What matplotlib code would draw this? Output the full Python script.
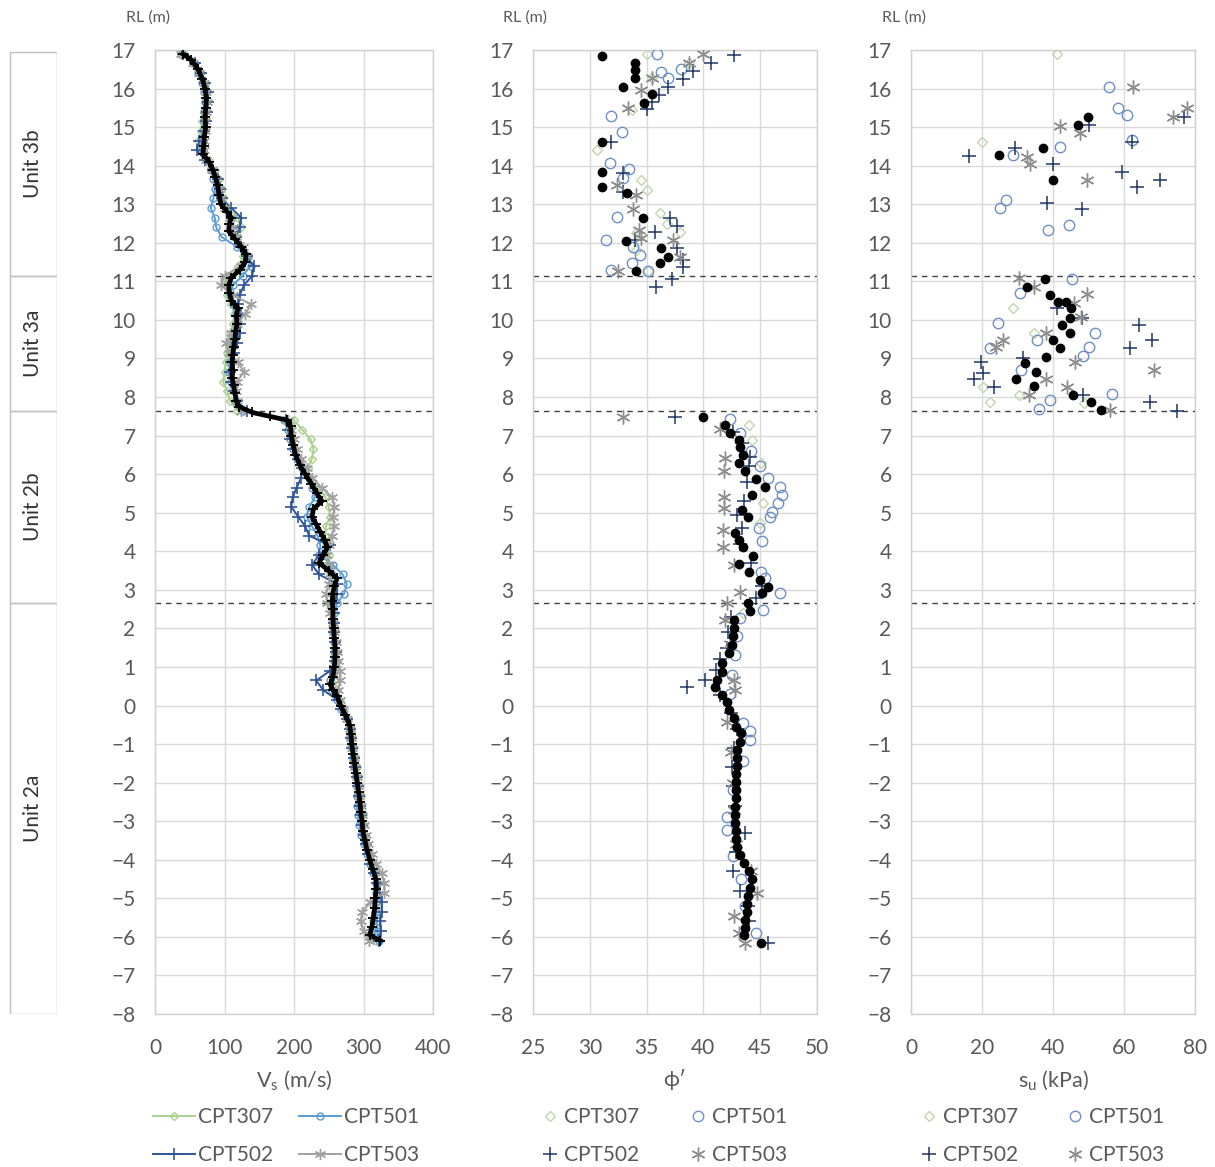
import matplotlib
matplotlib.use("Agg")
import matplotlib.pyplot as plt
from matplotlib.patches import Rectangle

plt.rcParams['font.family'] = ['Lato', 'DejaVu Sans']
plt.rcParams['mathtext.fontset'] = 'custom'
plt.rcParams['mathtext.rm'] = 'Lato'
plt.rcParams['mathtext.it'] = 'Lato:italic'

# ---------------- data ----------------
series_names = ['CPT307', 'CPT501', 'CPT502', 'CPT503']

# RL grid of the CPT-derived Vs profiles (m)
rl_vs = [16.9, 16.65, 16.4, 16.15, 15.9, 15.65, 15.4, 15.15, 14.9, 14.65,
         14.4, 14.15, 13.9, 13.65, 13.4, 13.15, 12.9, 12.65, 12.4, 12.15,
         11.9, 11.65, 11.4, 11.15, 10.9, 10.65, 10.4, 10.15, 9.9, 9.65,
         9.4, 9.15, 8.9, 8.65, 8.4, 8.15, 7.9, 7.65, 7.4, 7.15,
         6.9, 6.65, 6.4, 6.15, 5.9, 5.65, 5.4, 5.15, 4.9, 4.65,
         4.4, 4.15, 3.9, 3.65, 3.4, 3.15, 2.9, 2.65, 2.4, 2.15,
         1.9, 1.65, 1.4, 1.15, 0.9, 0.65, 0.4, 0.15, -0.1, -0.35,
         -0.6, -0.85, -1.1, -1.35, -1.6, -1.85, -2.1, -2.35, -2.6, -2.85,
         -3.1, -3.35, -3.6, -3.85, -4.1, -4.35, -4.6, -4.85, -5.1, -5.35,
         -5.6, -5.85, -6.1]

vs_cpt307 = [42, 58, 66, 72, 75, 72, 70, 68, 66, 62,
             66, 78, 86, 92, 96, 98, 104, 120, 124, 118,
             122, 126, 120, 104, 100, 104, 110, 114, 112, 108,
             106, 104, 102, 100, 98, 104, 108, 118, 200, 212,
             224, 228, 226, 220, 222, 234, 245, 250, 252, 246,
             244, 250, 250, 248, 252, 256, 254, 252, 254, 256,
             258, 260, 262, 262, 260, 258, 262, 266, 272, 278,
             282, 284, 286, 288, 290, 292, 294, 296, 297, 299,
             300, 302, 305, 309, 312, 316, 319, 320, 318, 316,
             314, 312, 318]
vs_cpt501 = [38, 55, 62, 68, 71, 72, 71, 70, 70, 69,
             69, 74, 80, 84, 86, 84, 80, 86, 88, 96,
             118, 134, 138, 126, 112, 108, 112, 116, 116, 114,
             112, 110, 108, 106, 110, 114, 116, 126, 186, 192,
             194, 198, 204, 212, 222, 226, 230, 222, 218, 226,
             234, 238, 236, 256, 270, 276, 272, 262, 258, 256,
             256, 257, 258, 258, 256, 252, 254, 262, 268, 276,
             280, 281, 283, 285, 287, 289, 290, 290, 290, 292,
             294, 296, 300, 305, 309, 314, 318, 318, 318, 318,
             319, 320, 322]
vs_cpt502 = [40, 58, 66, 72, 76, 76, 75, 74, 70, 64,
             60, 72, 84, 90, 94, 96, 110, 124, 122, 116,
             124, 132, 142, 140, 128, 122, 120, 124, 122, 122,
             118, 114, 110, 108, 110, 114, 118, 132, 188, 192,
             194, 198, 206, 212, 210, 204, 198, 196, 206, 216,
             222, 252, 236, 226, 236, 262, 262, 258, 257, 257,
             258, 259, 260, 259, 252, 232, 242, 262, 268, 276,
             281, 282, 284, 286, 288, 290, 292, 294, 295, 297,
             298, 300, 303, 307, 310, 315, 320, 324, 326, 326,
             324, 325, 322]
vs_cpt503 = [38, 55, 64, 70, 73, 75, 74, 72, 72, 70,
             70, 74, 82, 88, 92, 95, 100, 108, 112, 116,
             126, 132, 124, 100, 95, 112, 138, 130, 118, 110,
             102, 106, 120, 128, 118, 116, 118, 124, 192, 196,
             200, 204, 210, 218, 226, 240, 255, 258, 256, 258,
             254, 250, 248, 250, 252, 250, 246, 248, 252, 256,
             258, 260, 262, 264, 266, 266, 264, 266, 270, 276,
             280, 282, 284, 286, 288, 290, 292, 294, 296, 298,
             300, 303, 306, 312, 318, 326, 330, 330, 310, 298,
             296, 300, 308]

# average Vs profile (black)
rl_vs_mean = [16.9, 16.75, 16.5, 16.25, 16.0, 15.75, 15.5, 15.25, 15.0, 14.75,
              14.5, 14.3, 14.1, 13.9, 13.7, 13.5, 13.25, 13.0, 12.8, 12.65,
              12.5, 12.3, 12.1, 11.9, 11.7, 11.5, 11.3, 11.1, 10.9, 10.7,
              10.5, 10.3, 10.1, 9.9, 9.7, 9.5, 9.3, 9.1, 8.9, 8.7,
              8.5, 8.3, 8.1, 7.9, 7.75, 7.6, 7.5, 7.4, 7.25, 7.0,
              6.75, 6.5, 6.25, 6.0, 5.75, 5.5, 5.3, 5.1, 4.9, 4.7,
              4.5, 4.3, 4.1, 3.9, 3.7, 3.5, 3.3, 3.1, 2.9, 2.7,
              2.5, 2.25, 2.0, 1.75, 1.5, 1.25, 1.0, 0.75, 0.55, 0.4,
              0.25, 0.0, -0.25, -0.5, -0.75, -1.0, -1.25, -1.5, -1.75, -2.0,
              -2.25, -2.5, -2.75, -3.0, -3.25, -3.5, -3.75, -4.0, -4.25, -4.5,
              -4.75, -5.0, -5.25, -5.5, -5.75, -5.95, -6.1]
vs_mean = [40, 52, 62, 68, 72, 74, 73, 72, 73, 71,
           70, 69, 78, 83, 87, 90, 92, 95, 104, 110,
           107, 106, 115, 124, 131, 130, 122, 110, 106, 107,
           110, 119, 117, 118, 116, 115, 113, 112, 111, 112,
           111, 113, 115, 117, 121, 140, 165, 190, 195, 196,
           199, 202, 208, 216, 225, 233, 240, 228, 226, 232,
           238, 244, 248, 242, 236, 250, 262, 258, 256, 255,
           256, 256, 257, 258, 259, 259, 258, 256, 252, 256,
           262, 267, 274, 280, 282, 283, 285, 287, 289, 291,
           293, 295, 296, 298, 299, 302, 305, 309, 313, 318,
           318, 317, 316, 314, 312, 309, 324]

# friction angle phi' (deg)
phi_cpt307 = [35.0, 38.75, 35.45, 33.7, 30.6, 34.55, 35.0, 36.2, 36.8, 37.95, 34.1, 34.1, 35.1,
              44.05, 44.25, 45.1, 45.25, 45.0, 43.5]
rl_phi_cpt307 = [16.9, 16.65, 16.27, 15.44, 14.4, 13.63, 13.37, 12.77, 12.5, 12.29, 12.25, 11.81, 11.28,
                 7.27, 6.89, 6.28, 5.25, 4.73, 2.39]
phi_cpt501 = [35.9, 38.0, 36.3, 36.9, 31.9, 32.8, 31.8, 33.45, 32.9, 32.4, 31.4, 33.8, 34.4, 33.75, 31.9, 35.1,
              42.3, 43.25, 44.2, 45.0, 45.7, 46.75, 46.9, 46.6, 46.0, 45.85, 44.9, 45.2, 45.1, 45.4, 46.7,
              45.25, 43.25, 43.0, 42.8, 42.5, 42.3, 43.5, 44.1, 44.1, 43.5, 42.6, 42.1, 42.1, 42.6, 43.3,
              43.7, 44.6]
rl_phi_cpt501 = [16.9, 16.52, 16.44, 16.27, 15.29, 14.88, 14.06, 13.91, 13.67, 12.66, 12.07, 11.9, 11.68, 11.47,
                 11.29, 11.28,
                 7.42, 7.06, 6.6, 6.2, 5.89, 5.66, 5.46, 5.25, 5.03, 4.9, 4.6, 4.26, 3.47, 3.3, 2.91,
                 2.47, 2.26, 1.8, 1.3, 0.8, 0.3, -0.45, -0.67, -0.89, -1.44, -2.2, -2.88, -3.23, -3.9, -4.5,
                 -5.2, -5.91]
phi_cpt502 = [42.7, 40.7, 39.05, 38.2, 36.9, 36.1, 35.45, 35.0, 31.85, 32.95, 32.95, 37.1, 37.7, 35.75, 34.0,
              37.7, 38.2, 38.2, 37.2, 35.85,
              37.5, 42.6, 43.4, 44.1, 44.0, 43.8, 43.6, 43.0, 43.4, 43.2, 44.2, 45.2, 44.6, 42.4, 42.2,
              42.1, 41.5, 41.1, 40.1, 38.55, 41.5, 42.4, 43.0, 42.7, 42.5, 42.6, 42.8, 43.65, 42.9, 42.6,
              43.2, 43.9, 44.0, 45.7]
rl_phi_cpt502 = [16.87, 16.67, 16.46, 16.25, 16.05, 15.83, 15.66, 15.46, 14.62, 13.8, 13.33, 12.64, 12.44,
                 12.29, 12.07, 11.86, 11.55, 11.38, 11.05, 10.86,
                 7.47, 7.1, 6.8, 6.45, 6.2, 5.8, 5.3, 4.95, 4.6, 4.2, 3.7, 3.1, 2.8, 2.3, 1.9,
                 1.5, 1.2, 0.91, 0.66, 0.49, 0.27, -0.2, -0.6, -1.1, -1.6, -2.1, -2.6, -3.31, -3.8, -4.3,
                 -4.8, -5.2, -5.6, -6.17]
phi_cpt503 = [40.0, 38.7, 35.5, 34.5, 33.4, 32.4, 34.1, 33.8, 34.3, 34.55, 37.3, 37.95, 32.45,
              32.9, 41.5, 41.9, 41.8, 41.85, 41.85, 41.7, 41.75, 42.65, 43.25, 42.05, 41.9, 42.3, 42.65,
              42.8, 42.05, 42.4, 42.6, 42.7, 42.9, 44.2, 44.7, 42.65, 43.1, 43.65]
rl_phi_cpt503 = [16.9, 16.67, 16.27, 15.96, 15.49, 13.5, 13.24, 12.87, 12.33, 12.12, 12.07, 11.64, 11.28,
                 7.47, 7.16, 6.41, 6.09, 5.42, 5.12, 4.55, 4.12, 3.64, 2.95, 2.65, 2.22, 1.6, 0.66,
                 0.40, -0.42, -1.2, -2.0, -2.7, -3.6, -4.3, -4.87, -5.47, -5.91, -6.17]
phi_mean = [31.05, 34.0, 34.0, 34.0, 32.95, 35.45, 34.8, 31.1, 31.05, 31.05, 33.3, 34.7, 33.15, 36.25, 36.9,
            36.2, 34.1,
            40.0, 41.9, 42.3, 43.1, 43.2, 43.45, 43.15, 43.7, 44.6, 45.4, 44.25, 43.4, 43.9, 42.8,
            43.15, 43.5, 44.4, 43.15, 44.05, 45.0, 45.7, 45.2, 43.95, 44.1, 42.65, 42.65, 42.6, 42.5,
            42.25, 41.6, 41.6, 41.2, 41.0, 41.6, 42.05, 42.25, 42.65, 42.9, 43.3, 43.25, 43.0, 43.0,
            42.95, 42.9, 42.9, 42.85, 42.85, 42.8, 42.75, 42.8, 42.85, 42.9, 43.0, 43.2, 43.6, 44.0,
            44.25, 44.1, 43.9, 43.85, 43.8, 43.7, 43.65, 43.6, 45.05]
rl_phi_mean = [16.85, 16.67, 16.48, 16.27, 16.03, 15.86, 15.62, 14.62, 13.84, 13.45, 13.28, 12.64, 12.05,
               11.87, 11.64, 11.47, 11.28,
               7.47, 7.27, 7.06, 6.89, 6.71, 6.50, 6.30, 6.07, 5.87, 5.66, 5.46, 5.07, 4.88, 4.48,
               4.29, 4.12, 3.88, 3.67, 3.47, 3.26, 3.07, 2.91, 2.65, 2.46, 2.22, 2.01, 1.79, 1.57,
               1.35, 1.09, 0.88, 0.66, 0.47, 0.27, 0.10, -0.12, -0.33, -0.55, -0.72, -0.94, -1.15, -1.36,
               -1.57, -1.78, -1.99, -2.2, -2.41, -2.62, -2.83, -3.04, -3.25, -3.46, -3.67, -3.88, -4.09, -4.3,
               -4.51, -4.72, -4.93, -5.14, -5.35, -5.56, -5.77, -5.95, -6.17]

# undrained shear strength su (kPa)
su_cpt307 = [41.0, 19.9, 28.6, 20.2, 22.3, 30.5, 34.6, 48.7]
rl_su_cpt307 = [16.9, 14.62, 10.30, 8.27, 7.88, 8.05, 9.67, 7.85]
su_cpt501 = [55.9, 58.4, 60.9, 62.15, 42.0, 28.6, 26.8, 25.1, 44.6, 38.7, 45.3, 30.7, 24.6, 51.8, 50.2,
             48.4, 35.4, 22.3, 30.9, 56.5, 39.15, 36.1]
rl_su_cpt501 = [16.03, 15.49, 15.31, 14.67, 14.49, 14.28, 13.11, 12.89, 12.46, 12.34, 11.05, 10.69, 9.91,
                9.67, 9.31, 9.06, 9.48, 9.26, 8.70, 8.08, 7.92, 7.68]
su_cpt502 = [16.4, 29.3, 39.9, 38.2, 48.1, 50.2, 59.3, 63.75, 70.1, 62.15, 76.9, 41.0, 48.1, 64.3, 61.7,
             67.8, 31.65, 19.6, 20.4, 17.7, 23.4, 48.5, 67.3, 75.0]
rl_su_cpt502 = [14.26, 14.45, 14.04, 13.04, 12.87, 15.05, 13.84, 13.44, 13.63, 14.62, 15.25, 10.30, 10.04,
                9.87, 9.26, 9.48, 9.01, 8.92, 8.63, 8.46, 8.27, 8.05, 7.88, 7.65]
su_cpt503 = [62.6, 42.0, 47.6, 33.5, 32.6, 49.7, 73.7, 77.7, 30.5, 34.65, 49.7, 45.9, 47.8, 38.0, 26.0,
             23.9, 46.2, 68.4, 38.0, 43.9, 33.3, 56.1]
rl_su_cpt503 = [16.03, 15.02, 14.86, 14.04, 14.23, 13.63, 15.27, 15.49, 11.10, 10.85, 10.67, 10.45, 10.08,
                9.65, 9.48, 9.31, 8.92, 8.70, 8.46, 8.27, 8.05, 7.66]
su_mean = [49.95, 47.1, 37.1, 24.9, 40.1, 37.75, 32.6, 39.15, 41.3, 43.6, 45.0, 44.8, 42.45, 44.8, 40.1,
           42.0, 38.0, 32.1, 35.2, 29.6, 34.65, 45.5, 50.7, 53.5]
rl_su_mean = [15.27, 15.05, 14.45, 14.28, 13.63, 11.05, 10.86, 10.65, 10.47, 10.47, 10.30, 10.04, 9.87,
              9.65, 9.48, 9.26, 9.05, 8.88, 8.66, 8.46, 8.29, 8.05, 7.88, 7.66]

# stratigraphic units
unit_names = ['Unit 3b', 'Unit 3a', 'Unit 2b', 'Unit 2a']
unit_top = [16.95, 11.15, 7.65, 2.67]
unit_bottom = [11.15, 7.65, 2.67, -8.0]
boundary_rl = [11.15, 7.65, 2.67]

# ---------------- figure ----------------
W, H = 1215, 1167
fig = plt.figure(figsize=(W / 100, H / 100), dpi=100)


def rect(l, r, t=50, b=1014):
    return [l / W, 1 - b / H, (r - l) / W, (b - t) / H]


ax1 = fig.add_axes(rect(155, 433))
ax2 = fig.add_axes(rect(533, 817))
ax3 = fig.add_axes(rect(911, 1195))
axu = fig.add_axes(rect(8, 57))

TXT = '#595959'
GRID = '#d9d9d9'
for ax in (ax1, ax2, ax3):
    ax.set_ylim(-8, 17)
    ax.set_yticks(range(-8, 18))
    ax.grid(True, color=GRID, lw=1.0)
    ax.set_axisbelow(True)
    ax.tick_params(length=0, labelsize=15, colors=TXT)
    ax.tick_params(axis='y', pad=14)
    ax.tick_params(axis='x', pad=17)
    for s in ax.spines.values():
        s.set_color('#d0d0d0')
        s.set_linewidth(1.0)
    for rl in boundary_rl:
        ax.axhline(rl, color='#404040', lw=1.0, ls=(0, (4, 3.5)), zorder=1.5)

ax1.set_xlim(0, 400)
ax1.set_xticks([0, 100, 200, 300, 400])
ax2.set_xlim(25, 50)
ax2.set_xticks([25, 30, 35, 40, 45, 50])
ax3.set_xlim(0, 80)
ax3.set_xticks([0, 20, 40, 60, 80])

# colours / markers
c307 = '#a9d18e'
c501 = '#5b9bd5'
c502 = '#2f5597'
c503 = '#a0a0a0'
star = (6, 2, 0)

# Panel 1: Vs profiles
h307, = ax1.plot(vs_cpt307, rl_vs, color=c307, lw=1.4, marker='D', ms=4, mfc='none', mew=1.0, zorder=3)
h501, = ax1.plot(vs_cpt501, rl_vs, color=c501, lw=1.4, marker='o', ms=5, mfc='none', mew=1.0, zorder=3)
h502, = ax1.plot(vs_cpt502, rl_vs, color=c502, lw=1.4, marker='+', ms=8, mew=1.2, zorder=3)
h503, = ax1.plot(vs_cpt503, rl_vs, color=c503, lw=1.4, marker=star, ms=8, mew=1.0, zorder=3)
ax1.plot(vs_mean, rl_vs_mean, color='black', lw=3.4, marker='+', ms=7, mew=1.3, zorder=5)

# Panel 2/3 marker styles
p307 = dict(color='#c2d6ae', marker='D', ms=5, mfc='none', mew=1.0, ls='none')
p501 = dict(color='#6f8fc8', marker='o', ms=7.5, mfc='none', mew=1.0, ls='none')
p502 = dict(color='#1f3864', marker='+', ms=10, mew=1.1, ls='none')
p503 = dict(color='#8c8c8c', marker=star, ms=10, mew=1.0, ls='none')

# Panel 2: phi'
g307, = ax2.plot(phi_cpt307, rl_phi_cpt307, zorder=3, **p307)
g501, = ax2.plot(phi_cpt501, rl_phi_cpt501, zorder=3, **p501)
g502, = ax2.plot(phi_cpt502, rl_phi_cpt502, zorder=3, **p502)
g503, = ax2.plot(phi_cpt503, rl_phi_cpt503, zorder=3, **p503)
ax2.plot(phi_mean, rl_phi_mean, ls='none', marker='o', ms=6, color='black', zorder=5)

# Panel 3: su
k307, = ax3.plot(su_cpt307, rl_su_cpt307, zorder=3, **p307)
k501, = ax3.plot(su_cpt501, rl_su_cpt501, zorder=3, **p501)
k502, = ax3.plot(su_cpt502, rl_su_cpt502, zorder=3, **p502)
k503, = ax3.plot(su_cpt503, rl_su_cpt503, zorder=3, **p503)
ax3.plot(su_mean, rl_su_mean, ls='none', marker='o', ms=6, color='black', zorder=5)

# unit column
axu.set_xlim(0, 1)
axu.set_ylim(-8, 17)
axu.axis('off')
for name, top, bot in zip(unit_names, unit_top, unit_bottom):
    axu.add_patch(Rectangle((0.04, bot), 0.96, top - bot, fill=False, ec='#bfbfbf', lw=1.0))
    axu.text(0.52, (top + bot) / 2, name, rotation=90, ha='center', va='center',
             fontsize=15, color='#333333')

# RL labels
for xc in (148, 525, 904):
    fig.text(xc / W, 1 - 18 / H, 'RL (m)', ha='center', va='center', fontsize=11.5, color=TXT)

# x labels
fig.text(294 / W, 1 - 1080 / H, r'V$_\mathrm{s}$ (m/s)', ha='center', va='center', fontsize=15.5, color=TXT)
fig.text(675 / W, 1 - 1080 / H, 'ϕ′', ha='center', va='center', fontsize=15.5, color=TXT,
         family=['Lato', 'DejaVu Sans'])
fig.text(1053 / W, 1 - 1080 / H, r's$_\mathrm{u}$ (kPa)', ha='center', va='center', fontsize=15.5, color=TXT)

# legends (row 1: CPT307, CPT501; row 2: CPT502, CPT503)
leg_kw = dict(ncol=2, frameon=False, fontsize=15, labelcolor=TXT, borderpad=0,
              labelspacing=0.85, loc='upper left', bbox_transform=fig.transFigure, numpoints=1)
l1 = ax1.legend([h307, h502, h501, h503], ['CPT307', 'CPT502', 'CPT501', 'CPT503'],
                bbox_to_anchor=(143 / W, 1 - 1097 / H), handlelength=2.0, handletextpad=0.15,
                columnspacing=1.25, **leg_kw)
l2 = ax2.legend([g307, g502, g501, g503], ['CPT307', 'CPT502', 'CPT501', 'CPT503'],
                bbox_to_anchor=(531 / W, 1 - 1097 / H), handlelength=0.8, handletextpad=0.3,
                columnspacing=2.4, **leg_kw)
l3 = ax3.legend([k307, k502, k501, k503], ['CPT307', 'CPT502', 'CPT501', 'CPT503'],
                bbox_to_anchor=(910 / W, 1 - 1097 / H), handlelength=0.8, handletextpad=0.3,
                columnspacing=2.3, **leg_kw)

fig.savefig('out.png', dpi=100, facecolor='white')
